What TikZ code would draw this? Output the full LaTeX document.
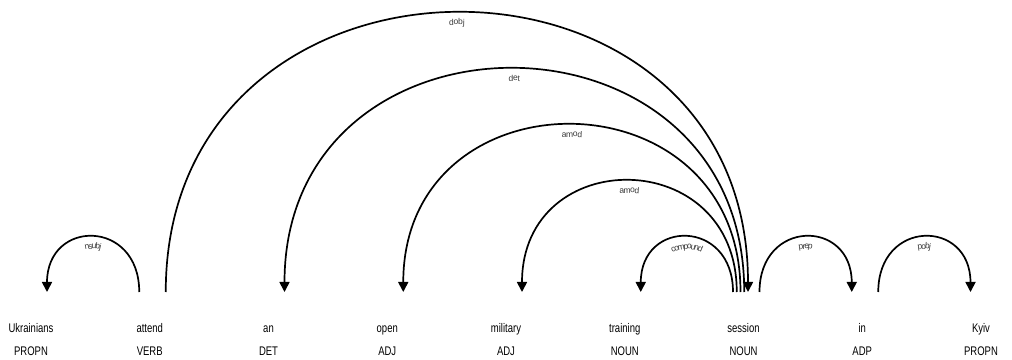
\documentclass[tikz,border=0pt]{standalone}
\usepackage{fontspec}
\usepackage{tikz}
\usetikzlibrary{arrows.meta,decorations.text}
\newfontfamily\wordfont[FakeStretch=0.76]{Liberation Sans}
\newfontfamily\deplabfont{Liberation Sans}
\definecolor{dlabel}{HTML}{3A3A3A}

\begin{document}
\begin{tikzpicture}[x=1pt,y=1pt,
      word/.style={anchor=base,inner sep=0pt,font=\wordfont\fontsize{12.5}{14}\selectfont},
      arc/.style={line width=1.7pt},
      >={Triangle[width=10pt,length=10pt]},
      lbl/.style={postaction={arrows=-,decorate,decoration={text along path,
                  text align=center,raise=-12pt,text color=dlabel,
                  text={|\deplabfont\fontsize{8.5}{9}\selectfont|#1}}}}
    ]
      \useasboundingbox (0,0) rectangle (1012,359);
      \foreach \w/\t [count=\i from 0] in {Ukrainians/PROPN,attend/VERB,an/DET,open/ADJ,
          military/ADJ,training/NOUN,session/NOUN,in/ADP,Kyiv/PROPN}{
        \node[word] (w\i) at (31+118.75*\i,27) {\w};
        \node[word] (t\i) at (31+118.75*\i,4) {\t};
        \coordinate (l\i) at (47+118.75*\i,67);
        \coordinate (r\i) at (20.5+118.75*\i,67);
      }
      \foreach \s/\e/\lv/\lab/\dir in {0/1/1/nsubj/<-,1/6/5/dobj/->,2/6/4/det/<-,
          3/6/3/amod/<-,4/6/2/amod/<-,5/6/1/compound/<-,6/7/1/prep/->,7/8/1/pobj/->}
        \draw[arc,\dir,lbl/.expanded=\lab] (l\s)
          .. controls +(0,74.67*\lv-1.33) and +(0,74.67*\lv-1.33) .. ([xshift=3.75*\lv-3.75]r\e);
    \end{tikzpicture}
\end{document}
